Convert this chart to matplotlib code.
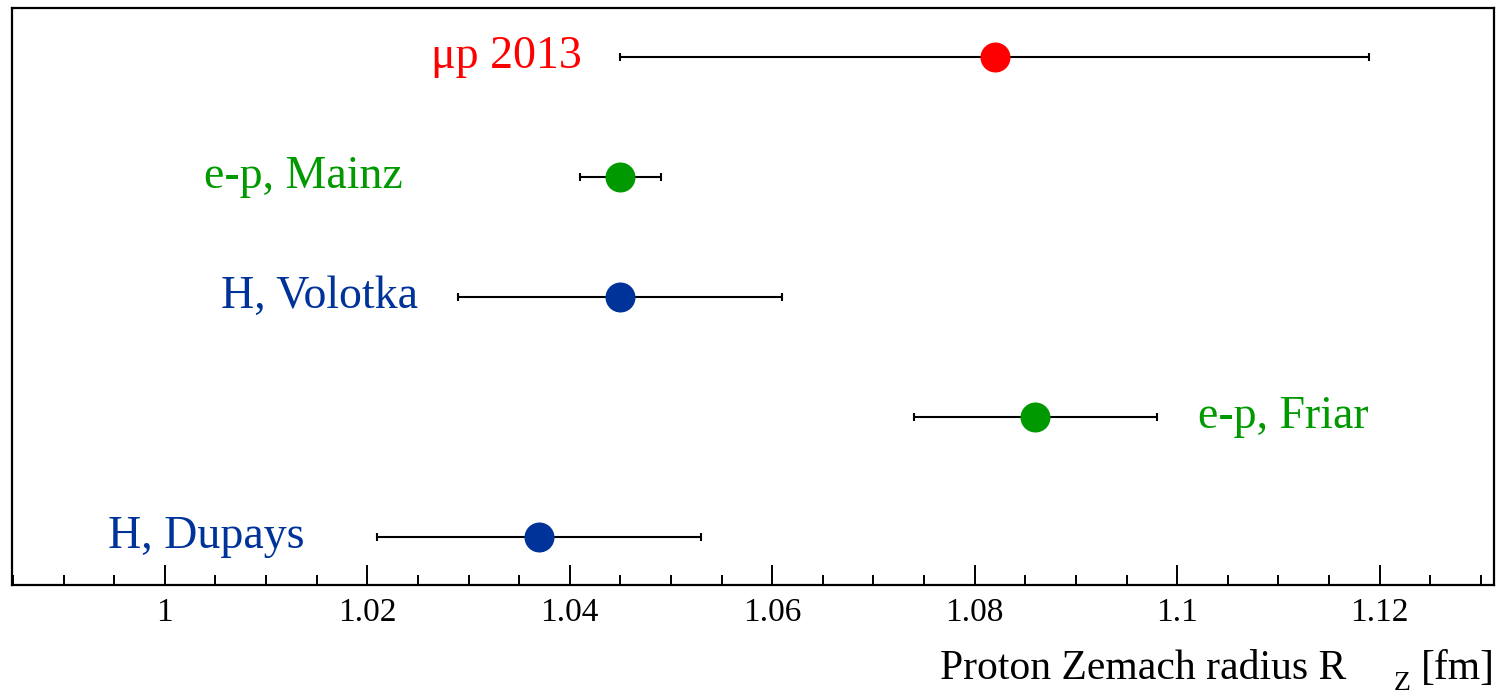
import matplotlib
matplotlib.use("Agg")
import matplotlib.pyplot as plt
from matplotlib.ticker import MultipleLocator, FuncFormatter

# Proton Zemach radius determinations [fm]
labels = ["H, Dupays", "e-p, Friar", "H, Volotka", "e-p, Mainz", "μp 2013"]
radius = [1.037, 1.086, 1.045, 1.045, 1.082]
error = [0.016, 0.012, 0.016, 0.004, 0.037]
colors = ["#003399", "#009900", "#003399", "#009900", "#ff0000"]

# label anchors (x in fm) and horizontal alignment
label_x = [1.0138, 1.1021, 1.0250, 1.0235, 1.0412]
label_ha = ["right", "left", "right", "right", "right"]

plt.rcParams["font.family"] = ["Liberation Serif", "DejaVu Serif"]

W, H = 1496, 694
fig = plt.figure(figsize=(W / 100, H / 100), dpi=100)
ax = fig.add_axes([12 / W, 1 - 585 / H, (1494 - 12) / W, (585 - 8) / H])

rows = list(range(1, len(labels) + 1))
for y, r, e, c, lab, lx, ha in zip(rows, radius, error, colors, labels, label_x, label_ha):
    ax.errorbar(r, y, xerr=e, fmt="none", ecolor="black", elinewidth=1.5,
                capsize=3, capthick=1.5, zorder=2)
    ax.plot(r, y, "o", color=c, markersize=21.6, markeredgewidth=0, zorder=3)
    ax.text(lx, y, lab, color=c, fontsize=33, ha=ha, va="center")

ax.set_xlim(0.9849, 1.1313)
ax.set_ylim(0.6, 5.41)

ax.xaxis.set_major_locator(MultipleLocator(0.02))
ax.xaxis.set_minor_locator(MultipleLocator(0.005))
ax.xaxis.set_major_formatter(FuncFormatter(lambda v, p: f"{v:.2f}".rstrip("0").rstrip(".")))
ax.tick_params(axis="x", which="major", direction="in", length=14.4, width=1.4,
               labelsize=24, pad=9, top=False)
ax.tick_params(axis="x", which="minor", direction="in", length=7.2, width=1.4, top=False)
ax.set_yticks([])
for s in ax.spines.values():
    s.set_linewidth(1.6)

# axis title with ROOT-style detached subscript
def fig_px(x, y):
    return x / W, 1 - y / H

fig.text(*fig_px(1495, 679), "[fm]", fontsize=30, ha="right", va="baseline")
fig.text(*fig_px(1402, 690), "Z", fontsize=20, ha="center", va="baseline")
fig.text(*fig_px(1346, 679), "Proton Zemach radius R", fontsize=30, ha="right", va="baseline")

fig.savefig("out.png", dpi=100)
